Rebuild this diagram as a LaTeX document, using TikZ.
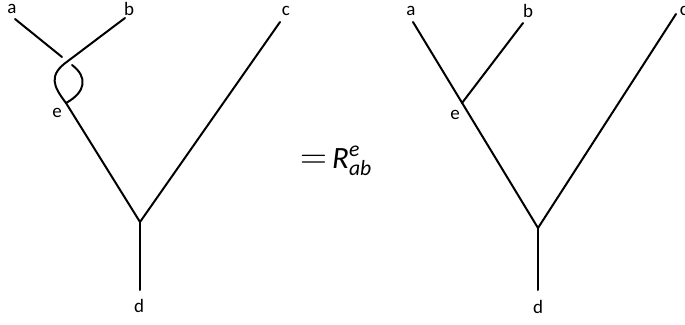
\documentclass[tikz,border=0pt]{standalone}
\usepackage{amsmath}
\usepackage{graphicx}
\usepackage[no-math]{fontspec}
\setmainfont{Carlito}
\usepackage{tikz}
\usetikzlibrary{positioning, calc}

\begin{document}
\begin{tikzpicture}[x=1pt, y=-1pt,
		lbl/.style={inner sep=0pt, font=\fontsize{19}{21}\selectfont},
		strand/.style={line width=2pt, line cap=round, line join=round}]
	\useasboundingbox (0,0) rectangle (685,324);
	% left: braided vertex
	\node[lbl] (la) at (12,9) {a};
	\node[lbl] (lb) at (129,9) {b};
	\node[lbl] (lc) at (286,11) {c};
	\node[lbl] (le) at (57,113) {e};
	\node[lbl] (ld) at (139,306) {d};
	\coordinate (a1) at (15,19);
	\coordinate (b1) at (125,18);
	\coordinate (c1) at (280,22);
	\coordinate (ag) at (62,57);
	\coordinate (ah) at (72,65);
	\coordinate (bx) at (68,61);
	\coordinate (e1) at (66,103);
	\coordinate (v1) at (140,222);
	\coordinate (d1) at (140,290);
	\draw[strand] (a1) -- (ag);
	\draw[strand] (ah) .. controls (88,77) and (86,92) .. (e1);
	\draw[strand] (b1) -- (bx) .. controls (48,75) and (53,86) .. (e1) -- (v1);
	\draw[strand] (v1) -- (c1);
	\draw[strand] (v1) -- (d1);
	% equation
	\node[inner sep=0pt, font=\fontsize{31}{33}\selectfont] (eq) at (336,161) {\scalebox{1.5}{$=$}\,$\textit{R}^{\textit{e}}_{\textit{ab}}$};
	% right: plain vertex
	\node[lbl] (ra) at (411,11) {a};
	\node[lbl] (rb) at (528,11) {b};
	\node[lbl] (rc) at (684,11) {c};
	\node[lbl] (re) at (455,115) {e};
	\node[lbl] (rd) at (538,307) {d};
	\coordinate (a2) at (413,22);
	\coordinate (b2) at (523,23);
	\coordinate (c2) at (676,14);
	\coordinate (e2) at (462,103);
	\coordinate (v2) at (538,228);
	\coordinate (d2) at (538,290);
	\draw[strand] (a2) -- (v2);
	\draw[strand] (b2) -- (e2);
	\draw[strand] (v2) -- (c2);
	\draw[strand] (v2) -- (d2);
\end{tikzpicture}
\end{document}
